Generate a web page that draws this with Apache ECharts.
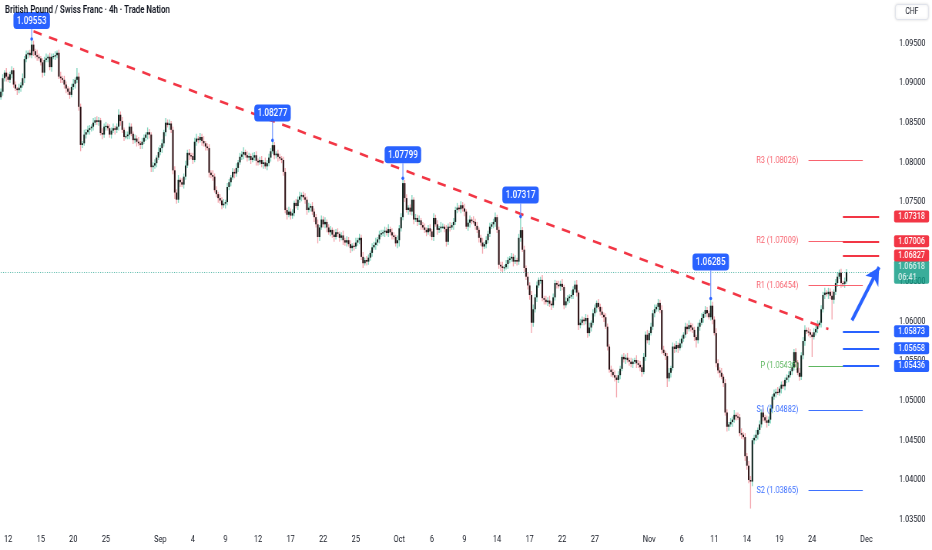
<!DOCTYPE html>
<html><head><meta charset="utf-8">
<script src="https://cdn.jsdelivr.net/npm/echarts@6/dist/echarts.min.js"></script>
<style>
html,body{margin:0;padding:0;background:#fff;overflow:hidden;width:932px;height:550px}
#wrap{width:932px;height:550px;overflow:hidden}
#c{width:1210px;height:550px;transform:scaleX(0.770248);transform-origin:0 0}
</style></head><body><div id="wrap"><div id="c"></div></div>
<script>
// ---------------- data ----------------
const firstOpen = 1.0882;
const closes = [
1.0889,1.0906,1.0913,1.0908,1.0904,1.0911,
1.0916,1.0898,1.0893,1.0891,1.0894,1.0897,
1.0906,1.0930,1.0936,1.0938,1.0935,1.09483,
1.0940,1.0935,1.0933,1.0931,1.0926,1.0913,
1.0929,1.0931,1.0933,1.0920,1.0933,1.0934,
1.0935,1.0938,1.0908,1.0906,1.0904,1.0898,
1.0893,1.0889,1.0885,1.0895,1.0899,1.0904,
1.0908,1.0870,1.0822,1.0824,1.0835,1.0838,
1.0841,1.0843,1.0845,1.0850,1.0853,1.0851,
1.0853,1.0837,1.0835,1.0845,1.0846,1.0843,
1.0835,1.0840,1.0843,1.0841,1.0845,1.0860,
1.0852,1.0841,1.0832,1.0833,1.0835,1.0845,
1.0836,1.0828,1.0830,1.0826,1.0824,1.0822,
1.0826,1.0831,1.0835,1.0838,1.0835,1.0794,
1.0796,1.0799,1.0806,1.0813,1.0818,1.0824,
1.0838,1.0850,1.0847,1.0849,1.0841,1.0790,
1.0762,1.0753,1.0778,1.0775,1.0772,1.0782,
1.0796,1.0812,1.0809,1.0808,1.0803,1.0826,
1.0830,1.0828,1.0832,1.0827,1.0824,1.0820,
1.0818,1.0787,1.0784,1.0782,1.0765,1.0760,
1.0755,1.0752,1.0746,1.0748,1.0750,1.0769,
1.0775,1.0781,1.0788,1.0786,1.0793,1.0800,
1.0807,1.0810,1.0813,1.0809,1.0806,1.0808,
1.0803,1.0806,1.0809,1.0802,1.0800,1.0803,
1.0798,1.0800,1.0795,1.0799,1.0806,1.0814,
1.08217,1.0809,1.0811,1.0807,1.0805,1.0803,
1.0788,1.0740,1.0734,1.0738,1.0733,1.0736,
1.0749,1.0745,1.0753,1.0757,1.0759,1.0756,
1.0753,1.0740,1.0743,1.0745,1.0738,1.0731,
1.0722,1.0706,1.0718,1.0728,1.0722,1.0725,
1.0718,1.0712,1.0715,1.0709,1.0706,1.0712,
1.0710,1.0705,1.0708,1.0702,1.0699,1.0702,
1.0697,1.0692,1.0695,1.0694,1.0699,1.0702,
1.0705,1.0681,1.0673,1.0677,1.0675,1.0680,
1.0686,1.0693,1.0696,1.0699,1.0703,1.0709,
1.0711,1.0712,1.0714,1.0711,1.0716,1.0712,
1.0708,1.0706,1.0698,1.0702,1.0717,1.0731,
1.07739,1.0755,1.0740,1.0743,1.0738,1.0753,
1.0728,1.0730,1.0725,1.0727,1.0721,1.0718,
1.0715,1.0712,1.0717,1.0713,1.0706,1.0730,
1.0722,1.0715,1.0717,1.0719,1.0719,1.0716,
1.0700,1.0719,1.0718,1.0721,1.0725,1.0740,
1.0743,1.0741,1.0746,1.0742,1.0738,1.0719,
1.0724,1.0728,1.0726,1.0725,1.0720,1.0715,
1.0705,1.0699,1.0694,1.0697,1.0702,1.0710,
1.0719,1.0722,1.0725,1.0731,1.0715,1.0671,
1.0669,1.0667,1.0668,1.0672,1.0677,1.0679,
1.0681,1.0675,1.0677,1.0675,1.0705,1.07147,
1.0690,1.0667,1.0656,1.0645,1.0633,1.0598,
1.0615,1.0630,1.0645,1.0652,1.0652,1.0629,
1.0627,1.0624,1.0626,1.0622,1.0620,1.0630,
1.0648,1.0646,1.0644,1.0647,1.0643,1.0620,
1.0625,1.0629,1.0631,1.0633,1.0640,1.0646,
1.0636,1.0595,1.0598,1.0602,1.0600,1.0604,
1.0585,1.0592,1.0598,1.0610,1.0617,1.0623,
1.0618,1.0612,1.0608,1.0605,1.0593,1.0568,
1.0539,1.0536,1.0532,1.0529,1.0526,1.0532,
1.0540,1.0555,1.0552,1.0554,1.0551,1.0549,
1.0546,1.0549,1.0551,1.0547,1.0545,1.0542,
1.0536,1.0555,1.0583,1.0576,1.0585,1.0593,
1.0610,1.0615,1.0618,1.0623,1.0614,1.0564,
1.0560,1.0556,1.0528,1.0535,1.0541,1.0568,
1.0565,1.0570,1.0566,1.0572,1.0578,1.0583,
1.0593,1.0590,1.0595,1.0592,1.0589,1.0580,
1.0576,1.0593,1.0598,1.0604,1.0609,1.0614,
1.0610,1.0605,1.06195,1.0602,1.0585,1.0547,
1.0538,1.0535,1.0530,1.0522,1.0485,1.0467,
1.0470,1.0473,1.0476,1.0482,1.0480,1.0479,
1.0459,1.0457,1.0454,1.0430,1.0418,1.0400,
1.0398,1.0450,1.0453,1.0457,1.0463,1.0470,
1.0485,1.0479,1.0475,1.0472,1.0476,1.0490,
1.0505,1.0509,1.0511,1.0510,1.0515,1.0520,
1.0518,1.0526,1.0529,1.0532,1.0537,1.0542,
1.0561,1.0548,1.0535,1.0530,1.0557,1.0575,
1.0589,1.0587,1.0586,1.0583,1.0580,1.0586,
1.0590,1.0595,1.0598,1.0615,1.0633,1.0636,
1.0634,1.0637,1.0632,1.0627,1.0637,1.0648,
1.0656,1.0661,1.0648,1.0647,1.0650,1.06618
];
// wick lengths above / below the body, in pips
const upperWickPips = [
4,5,3,6,4,3, 5,3,4,2,5,4, 6,4,5,3,4,7, 5,3,7,4,3,5, 4,6,3,5,4,3, 5,3,4,6,3,5,
4,3,5,4,6,3, 11,5,4,3,6,4, 5,4,3,6,4,5, 4,3,6,4,5,3, 5,4,6,3,4,7, 4,5,3,6,4,5,
4,3,5,4,6,3, 5,4,3,6,4,3, 4,5,3,6,4,5, 3,6,4,5,3,4, 5,4,6,3,5,4, 6,4,5,3,4,5,
6,3,5,4,6,3, 4,5,3,6,4,5, 3,5,4,6,3,5, 4,3,5,4,6,3, 5,4,6,3,5,4, 3,6,4,5,3,4,
5,3,6,4,5,4, 6,4,3,5,4,3, 4,5,3,6,4,5, 3,5,4,6,3,4, 5,4,6,3,5,4, 4,6,3,5,4,6,
3,4,5,3,6,4, 5,3,4,6,3,5, 4,5,3,4,6,3, 5,4,6,3,5,4, 3,5,4,6,3,5, 4,3,5,4,6,3,
5,4,3,6,4,5, 6,4,5,3,4,6, 3,5,4,6,3,4, 5,3,4,5,3,6, 4,5,3,6,4,3, 5,4,6,3,5,4,
6,3,5,4,6,3, 4,5,3,6,4,5, 3,4,6,3,5,4, 5,3,4,6,3,4, 4,6,3,5,4,3, 5,4,6,3,5,17,
4,5,3,6,4,5, 6,4,5,3,4,6, 3,5,4,6,3,5, 4,3,5,4,6,3, 5,4,3,6,4,5, 6,3,5,4,3,5,
4,6,3,5,4,3, 5,4,6,3,5,4, 3,5,4,6,3,5, 4,3,5,4,6,3, 5,4,3,6,4,5, 3,5,4,6,3,5,
4,6,3,5,4,6, 5,3,4,6,3,5, 4,5,3,6,4,3, 5,4,6,3,5,4, 3,5,4,6,3,5, 4,3,9,5,4,6,
5,4,6,3,5,4, 3,5,4,6,3,5, 4,6,3,5,4,6, 5,3,4,6,3,5, 4,5,3,6,4,5, 3,5,4,6,3,4,
5,3,4,5,3,6, 4,5,3,6,4,5, 6,3,5,4,3,5, 4,6,3,5,4,6, 3,5,4,6,3,5, 6,4,5,3,5,4
];
const lowerWickPips = [
3,5,4,6,3,4, 5,4,3,6,4,5, 3,6,4,5,3,4, 6,4,5,3,4,6, 4,3,5,4,6,3, 5,4,3,6,4,5,
6,4,5,3,4,6, 4,5,8,4,3,5, 3,6,4,5,3,4, 5,3,6,4,5,3, 4,5,3,6,4,5, 6,4,5,3,4,6,
3,5,4,6,3,5, 5,3,4,6,5,6, 6,4,5,3,4,6, 4,5,3,6,4,5, 8,5,4,6,3,5, 4,3,6,4,5,3,
5,4,3,6,4,5, 3,6,4,5,3,4, 6,4,5,3,6,4, 4,5,3,6,4,5, 3,4,6,3,5,4, 5,3,4,6,4,3,
4,6,3,5,4,5, 3,5,4,6,3,4, 5,4,6,3,5,4, 4,3,5,4,6,3, 5,6,3,5,4,6, 4,8,5,3,4,5,
6,3,5,4,6,3, 4,5,3,6,4,5, 3,6,4,5,3,4, 5,4,6,3,5,4, 4,5,3,6,4,5, 3,4,6,3,5,4,
5,3,4,6,8,4, 4,5,3,6,4,5, 6,3,5,4,6,3, 4,5,3,6,4,5, 3,6,4,5,3,4, 6,4,5,3,6,4,
4,3,5,4,6,3, 5,6,4,3,5,4, 6,4,9,3,5,4, 4,3,5,6,4,5, 6,5,4,3,6,4, 4,6,3,5,4,5,
3,6,4,5,6,13, 5,4,6,3,5,4, 6,3,5,4,6,3, 4,5,3,6,4,5, 3,4,6,3,5,4, 5,6,4,3,5,4,
6,4,5,3,4,6, 3,5,4,6,3,5, 4,6,3,5,22,4, 5,3,4,6,3,5, 4,5,3,6,4,5, 6,3,5,4,6,3,
4,5,3,6,4,5, 3,5,11,4,6,3, 5,4,6,3,5,4, 4,6,3,5,4,5, 9,4,5,3,6,4, 5,3,4,6,3,5,
4,6,3,5,4,6, 5,3,6,4,5,3, 4,5,3,6,5,4, 34,6,5,4,6,5, 4,5,3,6,4,5, 6,4,5,3,4,6,
3,5,4,6,3,5, 4,6,3,5,4,5, 6,3,5,4,25,3, 4,5,3,6,4,5, 3,6,4,25,5,4, 5,3,6,4,5,3
];
const xTickLabels = [
['2025-08-12','12'],['2025-08-15','15'],['2025-08-20','20'],['2025-08-25','25'],
['2025-09-01','Sep'],['2025-09-04','4'],['2025-09-09','9'],['2025-09-12','12'],
['2025-09-17','17'],['2025-09-22','22'],['2025-09-25','25'],['2025-10-01','Oct'],
['2025-10-06','6'],['2025-10-09','9'],['2025-10-14','14'],['2025-10-17','17'],
['2025-10-22','22'],['2025-10-27','27'],['2025-11-03','Nov'],['2025-11-06','6'],
['2025-11-11','11'],['2025-11-14','14'],['2025-11-19','19'],['2025-11-24','24'],
['2025-12-01','Dec']
];
const yTickValues = [1.035,1.040,1.045,1.050,1.055,1.060,1.065,1.070,1.075,1.080,1.085,1.090,1.095];
const peakIdx = [17,150,222,287,392];
const peakValues = [1.09553,1.08277,1.07799,1.07317,1.06285];
const pivotNames = ['R3','R2','R1','P','S1','S2'];
const pivotValues = [1.08026,1.07009,1.06454,1.05436,1.04882,1.03865];
const resistanceLevels = [1.07318,1.07006,1.06827];
const supportLevels = [1.05873,1.05658,1.05436];
const lastPrice = 1.06618;
const countdown = '06:41';
const trendStart = [18,1.0965], trendEnd = [457,1.0590];
const arrowFrom = [470,1.0601], arrowTo = [485,1.0668];
const pivotSpan = [446,476];
const levelSpan = [465,485];

// ---------------- layout helpers ----------------
const CW = 1210, S = 932 / CW;
const X = v => v / S;            // display px -> canvas px (container is squeezed horizontally)
const NCAT = 486, PIP = 0.0001;
const FONT = 'Roboto, "Open Sans", sans-serif';

const categories = [];
(function(){
  const d = new Date(Date.UTC(2025,7,11));
  let skip = 2;
  while (categories.length < NCAT) {
    const wd = d.getUTCDay();
    if (wd !== 0 && wd !== 6) {
      const ds = d.toISOString().slice(0,10);
      for (let h = 0; h < 24 && categories.length < NCAT; h += 4) {
        if (skip > 0) { skip--; continue; }
        categories.push(ds + ' ' + String(h).padStart(2,'0') + ':00');
      }
    }
    d.setUTCDate(d.getUTCDate() + 1);
  }
})();
const tickMap = {};
xTickLabels.forEach(([d,l]) => { tickMap[d + ' 00:00'] = l; });

const candleData = closes.map((c,i) => {
  const o = i === 0 ? firstOpen : closes[i-1];
  const hi = Math.max(o,c) + upperWickPips[i]*PIP;
  const lo = Math.min(o,c) - lowerWickPips[i]*PIP;
  return [i, o, c, lo, hi];
});

const RED = '#f23645', BLUE = '#2962ff', GREEN = '#089981';
const calloutGaps = [10,19,15,13,28];

const pivotColors = {R: '#f7525f', P: '#4caf50', S: '#2962ff'};
const pivotLines = pivotNames.map((n,k) => {
  const col = pivotColors[n[0]];
  return [
    {coord:[pivotSpan[0], pivotValues[k]],
     lineStyle:{color:col, width:1, type:'solid', opacity:0.9},
     label:{show:true, position:'start', distance:X(10), formatter: n + ' (' + pivotValues[k].toFixed(5) + ')',
            color:col, fontSize:9.5, fontFamily:FONT}},
    {coord:[pivotSpan[1], pivotValues[k]]}
  ];
});

function levelLine(v, col){
  return [
    {coord:[levelSpan[0], v], lineStyle:{color:col, width:2.2, type:'solid'},
     label:{show:true, position:'end', distance:X(15), formatter: v.toFixed(5),
            backgroundColor:col, color:'#fff', fontSize:9.5, fontWeight:500, fontFamily:FONT,
            padding:[1.5,X(4),0.5,X(4)], borderRadius:2, lineHeight:10}},
    {coord:[levelSpan[1], v]}
  ];
}
const levelLines = resistanceLevels.map(v => levelLine(v, RED))
  .concat(supportLevels.map(v => levelLine(v, BLUE)));

const chart = echarts.init(document.getElementById('c'));
chart.setOption({
  animation:false,
  backgroundColor:'#ffffff',
  grid:{left:0, right: CW - X(880), top:0, bottom:20},
  xAxis:{
    type:'category', data:categories, boundaryGap:true,
    axisLine:{show:false}, axisTick:{show:false}, splitLine:{show:false},
    axisLabel:{interval:(idx,val) => tickMap[val] !== undefined, formatter: val => tickMap[val] || '',
               color:'#131722', fontSize:9.5, fontFamily:FONT, margin:5}
  },
  yAxis:{
    type:'value', position:'right', min:1.0337, max:1.10045,
    axisLine:{show:false}, axisTick:{show:false}, splitLine:{show:false},
    axisLabel:{customValues:yTickValues, formatter: v => v.toFixed(5), color:'#131722',
               fontSize:9.5, fontFamily:FONT, margin:X(19), align:'left'}
  },
  graphic:[
    {type:'text', left:X(5), top:5, z:20,
     style:{text:'British Pound / Swiss Franc · 4h · Trade Nation', font:'600 10.3px ' + FONT, fill:'#131722'}},
    {type:'group', left:X(895), top:4, z:20, children:[
      {type:'rect', shape:{x:0, y:0, width:X(33), height:15, r:3},
       style:{fill:'#fff', stroke:'#e0e3eb', lineWidth:1, shadowBlur:3, shadowColor:'rgba(0,0,0,0.12)'}},
      {type:'text', x:X(16.5), y:7.5, style:{text:'CHF', font:'9px ' + FONT, fill:'#131722', align:'center', verticalAlign:'middle'}}
    ]}
  ],
  series:[
    {
      name:'pivots', type:'line', data:[], z:1, clip:false, silent:true,
      markLine:{silent:true, symbol:['none','none'], animation:false, data:pivotLines}
    },
    {
      name:'lastPrice', type:'line', data:[], z:2, clip:false, silent:true,
      markLine:{silent:true, symbol:['none','none'], animation:false,
        data:[[{coord:[0,lastPrice], lineStyle:{color:GREEN, width:1, type:[1,2], opacity:0.8},
                label:{show:true, position:'end', distance:X(15), formatter: lastPrice.toFixed(5) + '\n' + countdown,
                       backgroundColor:GREEN, color:'#fff', fontSize:9.5, fontWeight:500, fontFamily:FONT,
                       padding:[1.5,X(4),1,X(4)], borderRadius:2, lineHeight:10.5}},
               {coord:[NCAT-1,lastPrice]}]]}
    },
    {
      name:'GBPCHF', type:'custom', z:3, clip:true,
      encode:{x:0, y:[1,2,3,4]},
      data:candleData,
      renderItem:(params, api) => {
        const i = api.value(0), o = api.value(1), c = api.value(2), l = api.value(3), h = api.value(4);
        const pO = api.coord([i,o]), pC = api.coord([i,c]), pL = api.coord([i,l]), pH = api.coord([i,h]);
        const w = api.size([1,0])[0] * 0.85;
        const up = c >= o;
        const top = Math.min(pO[1], pC[1]);
        const hgt = Math.max(1.2, Math.abs(pO[1] - pC[1]));
        return {type:'group', children:[
          {type:'line', shape:{x1:pH[0], y1:pH[1], x2:pL[0], y2:pL[1]},
           style:{stroke: up ? '#7fd4bd' : '#f3a3ab', lineWidth:1.3}},
          {type:'rect', shape:{x:pO[0]-w/2, y:top, width:w, height:hgt},
           style:{fill: up ? '#0d1f1a' : '#2a1013'}}
        ]};
      }
    },
    {
      name:'trend', type:'line', data:[], z:4, clip:false, silent:true,
      markLine:{silent:true, symbol:['none','none'], animation:false,
        data:[[{coord:trendStart, lineStyle:{color:RED, width:2.6, type:[11,10]}}, {coord:trendEnd}]],
        label:{show:false}}
    },
    {
      name:'levels', type:'line', data:[], z:5, clip:false, silent:true,
      markLine:{silent:true, symbol:['none','none'], animation:false,
        data: levelLines.concat([
          [{coord:arrowFrom, symbol:'none', lineStyle:{color:BLUE, width:4, type:'solid'}, label:{show:false}},
           {coord:arrowTo, symbol:'arrow', symbolSize:[15,17]}]
        ])}
    },
    {
      name:'callouts', type:'custom', z:6, clip:false,
      encode:{x:0, y:1},
      data: peakIdx.map((k,j) => [k, peakValues[j]]),
      renderItem:(params, api) => {
        const j = params.dataIndex;
        const p = api.coord([api.value(0), api.value(1)]);
        const bw = X(36.5), bh = 17;
        const by = p[1] - calloutGaps[j] - bh;
        return {type:'group', children:[
          {type:'line', shape:{x1:p[0], y1:p[1], x2:p[0], y2:by+bh}, style:{stroke:'#6c93ff', lineWidth:1.2}},
          {type:'circle', shape:{cx:p[0], cy:p[1], r:1.8}, style:{fill:BLUE}},
          {type:'rect', shape:{x:p[0]-bw/2, y:by, width:bw, height:bh, r:4}, style:{fill:BLUE}},
          {type:'text', x:p[0], y:by+bh/2+0.5,
           style:{text: peakValues[j].toFixed(5), fill:'#fff', font:'500 10.5px ' + FONT, align:'center', verticalAlign:'middle'}}
        ]};
      }
    }
  ]
});
</script></body></html>
